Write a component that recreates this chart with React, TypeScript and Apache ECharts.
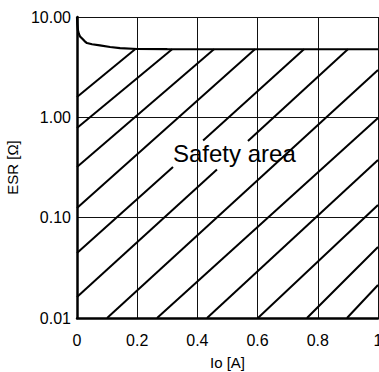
import React, { useEffect, useRef } from "react";
import * as echarts from "echarts";

// Boundary curve (ESR limit vs output current)
const curveX = [0.0, 0.001, 0.003, 0.006, 0.01, 0.017, 0.025, 0.033, 0.05, 0.076, 0.11, 0.143, 0.2, 0.3, 0.4, 0.6, 0.8, 1.0];
const curveY = [10.0, 8.6, 7.4, 6.8, 6.4, 6.1, 5.75, 5.5, 5.35, 5.22, 5.02, 4.9, 4.8, 4.78, 4.77, 4.77, 4.77, 4.77];

// Hatch segments of the "safety area" (start/end in data coordinates)
const hatchX1 = [0, 0, 0, 0, 0, 0.419, 0, 0.568, 0.1, 0.266, 0.432, 0.601, 0.764, 0.897];
const hatchY1 = [1.596, 0.784, 0.32, 0.125, 0.0445, 0.587, 0.0162, 0.581, 0.01, 0.01, 0.01, 0.01, 0.01, 0.01];
const hatchX2 = [0.193, 0.316, 0.455, 0.591, 0.319, 0.754, 0.465, 0.9, 1.0, 1.0, 1.0, 1.0, 1.0, 1.0];
const hatchY2 = [4.77, 4.77, 4.77, 4.77, 0.32, 4.77, 0.302, 4.77, 2.96, 0.984, 0.376, 0.134, 0.051, 0.0213];

const xMin = 0;
const xMax = 1;
const xInterval = 0.2;
const yMin = 0.01;
const yMax = 10;

const xTitle = "Io [A]";
const yTitle = "ESR [Ω]";
const areaLabel = "Safety area";

const FONT = '"Liberation Sans", Arial, Helvetica, sans-serif';

export default function App() {
  const ref = useRef<HTMLDivElement>(null);

  useEffect(() => {
    if (!ref.current) return;
    const chart = echarts.init(ref.current, undefined, { renderer: "svg" });

    const hatchSeries = hatchX1.map((x1, i) => ({
      type: "line",
      data: [
        [x1, hatchY1[i]],
        [hatchX2[i], hatchY2[i]],
      ],
      symbol: "none",
      silent: true,
      z: 3,
      lineStyle: { color: "#000", width: 2 },
    }));

    const option: any = {
      animation: false,
      backgroundColor: "#fff",
      grid: { left: 77, right: 1, top: 17, bottom: 54, containLabel: false, outerBoundsMode: "none" },
      xAxis: {
        type: "value",
        min: xMin,
        max: xMax,
        interval: xInterval,
        name: xTitle,
        nameLocation: "middle",
        nameGap: 37,
        nameTextStyle: { fontFamily: FONT, fontSize: 15, color: "#000" },
        axisLine: { show: true, onZero: false, lineStyle: { color: "#000", width: 2.5 } },
        axisTick: { show: false },
        axisLabel: { margin: 14, fontFamily: FONT, fontSize: 16, color: "#000" },
        splitLine: { show: true, lineStyle: { color: "#111", width: 1 } },
      },
      yAxis: {
        type: "log",
        logBase: 10,
        min: yMin,
        max: yMax,
        name: yTitle,
        nameLocation: "middle",
        nameGap: 37,
        nameTextStyle: { fontFamily: FONT, fontSize: 15, color: "#000" },
        axisLine: { show: true, lineStyle: { color: "#000", width: 2.5 } },
        axisTick: { show: false },
        axisLabel: {
          margin: 6,
          fontFamily: FONT,
          fontSize: 16,
          color: "#000",
          formatter: (v: number) => Number(v).toFixed(2),
        },
        splitLine: { show: true, lineStyle: { color: "#111", width: 1 } },
        minorSplitLine: { show: false },
      },
      graphic: [
        {
          type: "text",
          left: 173,
          top: 141,
          z: 10,
          style: { text: areaLabel, font: `24px ${FONT}`, fill: "#000" },
        },
      ],
      series: [
        ...hatchSeries,
        {
          type: "line",
          data: curveX.map((x, i) => [x, curveY[i]]),
          symbol: "none",
          silent: true,
          z: 4,
          lineStyle: { color: "#000", width: 2.2 },
        },
      ],
    };

    chart.setOption(option);
    return () => chart.dispose();
  }, []);

  return (
    <div
      ref={ref}
      style={{ position: "fixed", left: 0, top: 0, width: 379, height: 372, background: "#fff" }}
    />
  );
}
